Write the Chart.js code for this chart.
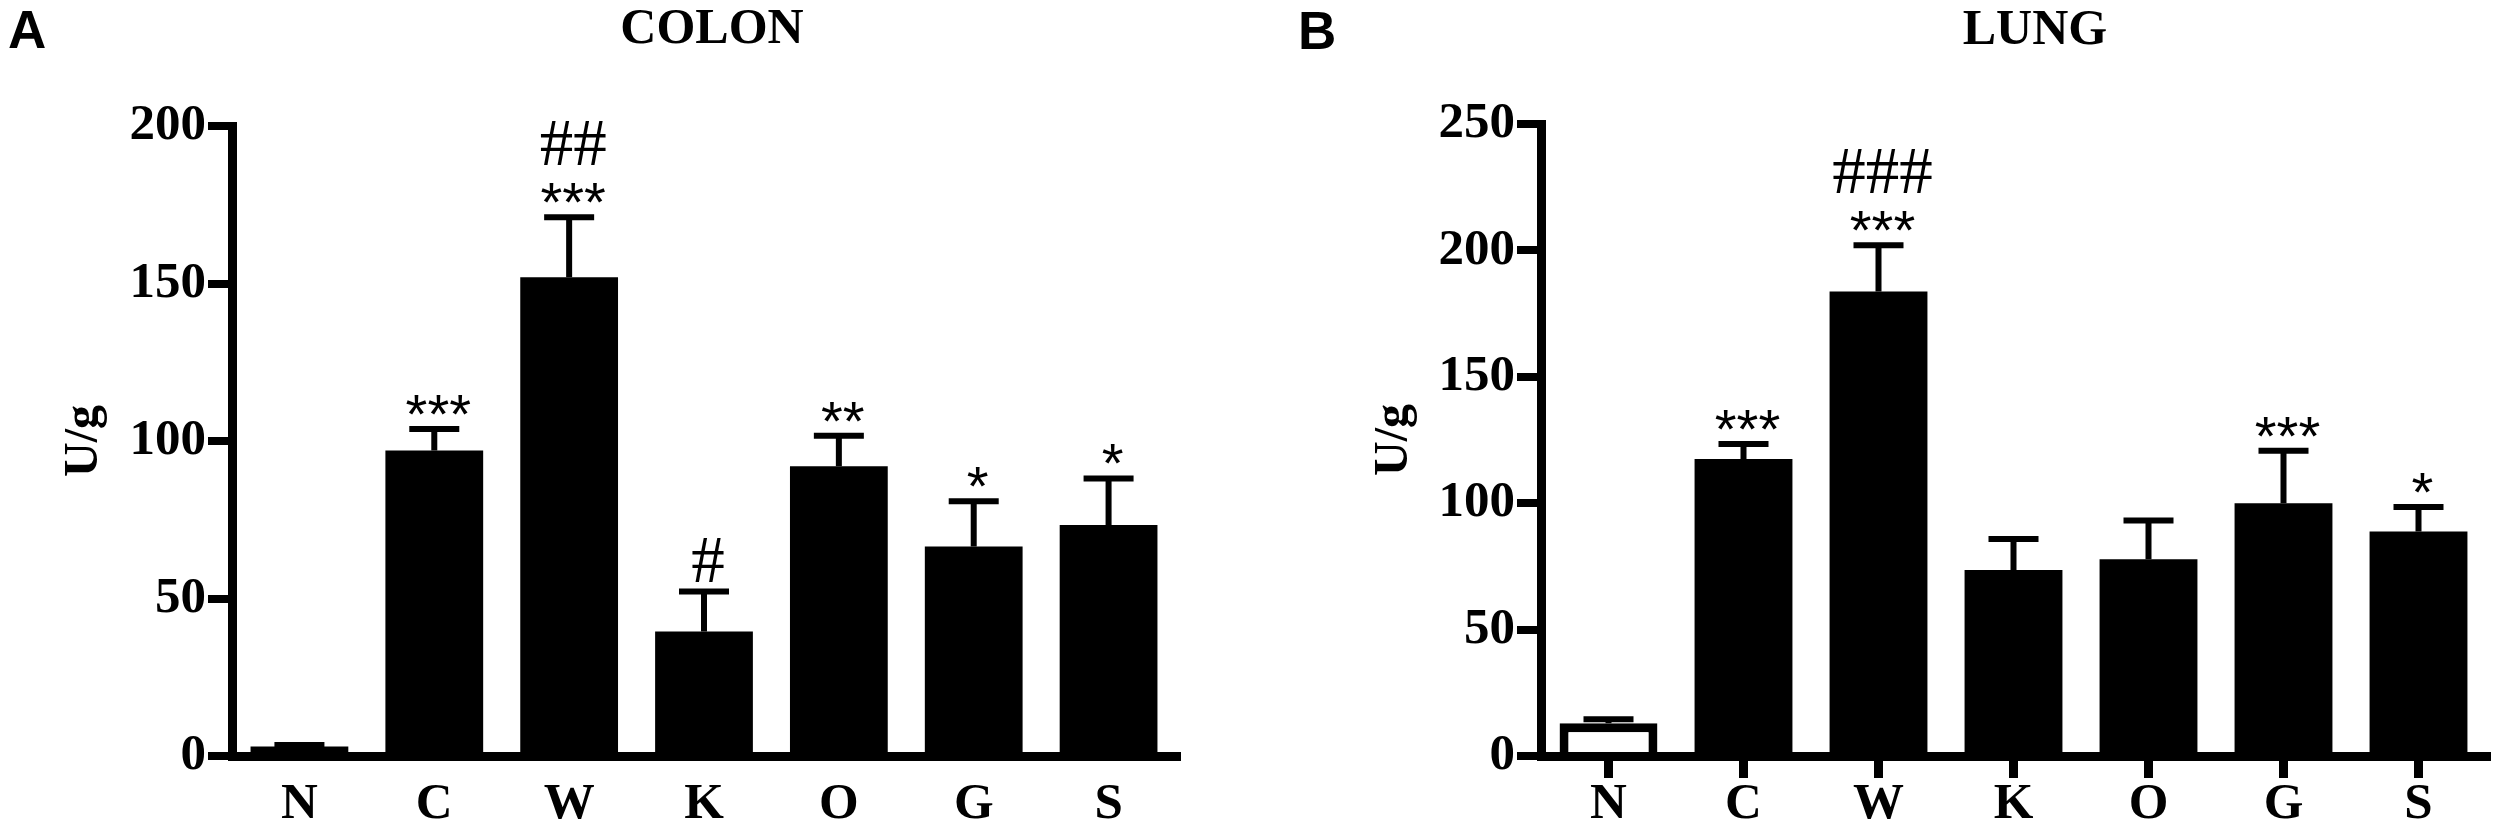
<!DOCTYPE html>
<html>
<head>
<meta charset="utf-8">
<script src="https://cdn.jsdelivr.net/npm/chart.js@4.4.0/dist/chart.umd.min.js"></script>
<style>
  body { margin: 0; background: #fff; width: 2500px; height: 833px; position: relative; overflow: hidden; }
  canvas { position: absolute; top: 0; }
  .letter { position: absolute; font-family: "Liberation Sans", Arial, sans-serif; font-weight: bold; font-size: 53px; line-height: 1; }
  .ttl { position: absolute; font-family: "Liberation Serif", "Times New Roman", serif; font-weight: bold; font-size: 50px; line-height: 1; transform: translateX(-50%); }
</style>
</head>
<body>
<div class="letter" style="left:8px;top:3px">A</div>
<div class="letter" style="left:1298px;top:4px">B</div>
<div class="ttl" style="left:712px;top:1px">COLON</div>
<div class="ttl" style="left:2035px;top:2px">LUNG</div>
<canvas id="colonChart" width="1250" height="833" style="left:0"></canvas>
<canvas id="lungChart" width="1250" height="833" style="left:1250px"></canvas>
<script>
// gruppi sull'asse x
const categories = ['N', 'C', 'W', 'K', 'O', 'G', 'S'];

// COLON: media e errore (U/g)
const colonMeans = [3, 97, 152, 39.5, 92, 66.5, 73.3];
const colonSem = [0.5, 6.8, 19, 12.7, 9.7, 14.4, 14.8];
const colonStars = ['', '***', '***', '', '**', '*', '*'];
const colonHashes = ['', '', '##', '#', '', '', ''];
const colonMax = 200;

// LUNG: media e errore (U/g)
const lungMeans = [13, 117.5, 183.7, 73.6, 77.8, 100, 88.8];
const lungSem = [1.5, 5.9, 18.3, 12.2, 15.4, 20.7, 9.7];
const lungStars = ['', '***', '***', '', '', '***', '*'];
const lungHashes = ['', '', '###', '', '', '', ''];
const lungMax = 250;

const tickStep = 50;
const serif = '"Liberation Serif", "Times New Roman", serif';

// barre d'errore e asterischi sopra le barre
const errorBars = {
    id: 'errorBars',
    afterDatasetsDraw(chart) {
        const ctx = chart.ctx;
        const y = chart.scales.y;
        const ds = chart.data.datasets[0];
        const meta = chart.getDatasetMeta(0);
        ctx.save();
        ctx.strokeStyle = '#000';
        ctx.fillStyle = '#000';
        ctx.lineWidth = 6;
        ctx.textAlign = 'center';
        ctx.textBaseline = 'alphabetic';
        meta.data.forEach(function(bar, i) {
            const top = y.getPixelForValue(ds.data[i] + ds.sem[i]);
            ctx.beginPath();
            ctx.moveTo(bar.x, bar.y);
            ctx.lineTo(bar.x, top);
            ctx.moveTo(bar.x - 25, top);
            ctx.lineTo(bar.x + 25, top);
            ctx.stroke();
            const tx = bar.x + 4;
            if (ds.stars[i]) {
                ctx.font = '56px "Liberation Sans", Arial, sans-serif';
                ctx.fillText(ds.stars[i], tx, top + 4);
            }
            if (ds.hashes[i]) {
                ctx.font = '67px ' + serif;
                ctx.fillText(ds.hashes[i], tx, top - (ds.stars[i] ? 52 : 10));
            }
        });
        ctx.restore();
    }
};

function makeChart(id, means, sem, stars, hashes, yMax, cfg) {
    const hollow = function(c) { return cfg.hollowFirst && c.dataIndex === 0; };
    return new Chart(document.getElementById(id), {
        type: 'bar',
        data: {
            labels: categories,
            datasets: [{
                data: means,
                sem: sem,
                stars: stars,
                hashes: hashes,
                backgroundColor: function(c) { return hollow(c) ? '#fff' : '#000'; },
                borderColor: '#000',
                borderWidth: function(c) { return hollow(c) ? 9 : 0; },
                barPercentage: 0.725,
                categoryPercentage: 1
            }]
        },
        options: {
            responsive: false,
            animation: false,
            devicePixelRatio: 1,
            layout: { padding: { left: 0, top: cfg.top, right: cfg.right, bottom: 0 } },
            plugins: { legend: { display: false }, tooltip: { enabled: false }, title: { display: false } },
            scales: {
                x: {
                    offset: true,
                    ticks: { color: '#000', maxRotation: 0, padding: 1, font: { family: serif, weight: 'bold', size: 51, lineHeight: 1 } },
                    grid: { offset: false, drawOnChartArea: false, drawTicks: true, tickLength: 22, lineWidth: 9, tickWidth: 9, tickColor: cfg.xTicks ? '#000' : 'rgba(0,0,0,0)' },
                    border: { display: true, width: 9, color: '#000' },
                    afterFit: function(scale) { scale.height = 77; }
                },
                y: {
                    min: 0,
                    max: yMax,
                    ticks: { stepSize: tickStep, color: '#000', padding: 2, font: { family: serif, weight: 'bold', size: 51, lineHeight: 1 } },
                    grid: { drawOnChartArea: false, drawTicks: true, tickLength: 24, lineWidth: 8, tickWidth: 8, tickColor: '#000' },
                    border: { display: true, width: 9, color: '#000' },
                    title: { display: true, text: 'U/g', color: '#000', padding: { top: cfg.titlePad, bottom: 0 }, font: { family: serif, weight: 'bold', size: 48, lineHeight: 1 } },
                    afterFit: function(scale) { scale.width = cfg.axisX; }
                }
            }
        },
        plugins: [errorBars]
    });
}

makeChart('colonChart', colonMeans, colonSem, colonStars, colonHashes, colonMax,
    { top: 126, right: 74, axisX: 232, titlePad: 61, xTicks: false, hollowFirst: false });
makeChart('lungChart', lungMeans, lungSem, lungStars, lungHashes, lungMax,
    { top: 124, right: 14, axisX: 291, titlePad: 121, xTicks: true, hollowFirst: true });
</script>
</body>
</html>
